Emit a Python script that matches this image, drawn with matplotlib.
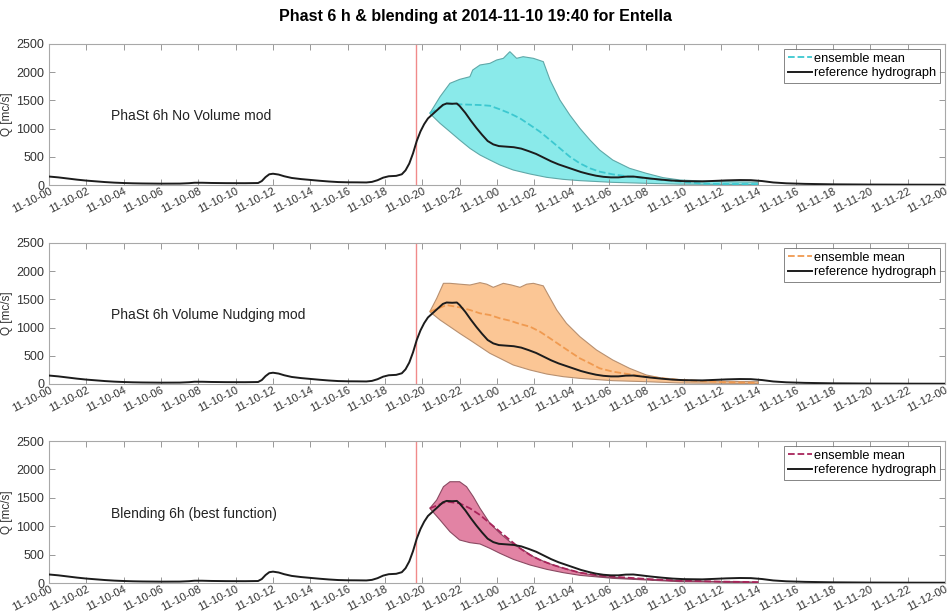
import matplotlib
matplotlib.use("Agg")
import matplotlib.pyplot as plt
import matplotlib.dates as mdates
import pandas as pd

plt.rcParams["font.family"] = ["Liberation Sans", "DejaVu Sans"]

START = pd.Timestamp("2014-11-10 00:00")
END = pd.Timestamp("2014-11-12 00:00")
ISSUE = pd.Timestamp("2014-11-10 19:40")

# reference hydrograph (hours since start, discharge)
ref_h = [0, 0.5, 1, 1.5, 2, 2.5, 3, 3.5, 4, 4.5, 5, 6, 7, 7.5, 7.8, 8.2, 8.7, 9.5,
         10.5, 11.2, 11.4, 11.6, 11.8, 12.0, 12.3, 12.6, 13.0, 13.5, 14, 14.5, 15,
         15.5, 16, 16.5, 17, 17.3, 17.6, 17.9, 18.2, 18.6, 18.9, 19.1, 19.3, 19.5,
         19.7, 19.9, 20.1, 20.3, 20.6, 20.9, 21.1, 21.3, 21.6, 21.85, 22.0, 22.3,
         22.6, 22.9, 23.2, 23.5, 23.8, 24.1, 24.5, 24.9, 25.3, 25.7, 26.1, 26.5,
         26.9, 27.3, 27.7, 28.1, 28.5, 28.9, 29.3, 29.7, 30.1, 30.5, 30.9, 31.3,
         31.7, 32.2, 32.8, 33.4, 34, 35, 35.6, 36.3, 37, 37.6, 38.2, 38.8, 39.5,
         40.5, 42, 44, 46, 48]
ref_q = [150, 135, 115, 95, 78, 65, 52, 42, 35, 30, 27, 24, 25, 32, 40, 40, 36, 33,
         32, 35, 70, 140, 190, 200, 185, 155, 125, 105, 90, 75, 62,
         52, 48, 47, 45, 55, 85, 130, 155, 162, 190, 260, 380, 560,
         780, 950, 1080, 1180, 1270, 1360, 1420, 1445, 1440, 1445, 1400, 1280,
         1140, 1010, 890, 780, 720, 690, 680, 670, 645, 600, 550, 485,
         420, 365, 320, 275, 230, 195, 165, 145, 135, 135, 148, 150,
         135, 115, 95, 78, 68, 64, 72, 82, 88, 86, 70, 45, 30,
         20, 12, 8, 6, 5]

# PhaSt 6h No Volume mod
nv_up_h = [20.4, 20.95, 21.48, 22.0, 22.55, 22.7, 23.09, 23.62, 23.98, 24.34, 24.69,
           25.05, 25.4, 25.95, 26.48, 26.84, 27.37, 27.9, 28.44, 28.98, 29.5, 30.2,
           31.1, 32.0, 32.9, 33.8, 35, 36, 37, 38]
nv_up_q = [1270, 1566, 1803, 1873, 1920, 2039, 2128, 2157, 2216, 2246, 2364,
           2246, 2275, 2246, 2187, 1862, 1507, 1241, 1005, 798, 620, 443,
           296, 207, 130, 89, 70, 60, 55, 50]
nv_lo_h = [20.4, 20.95, 21.48, 22.0, 22.55, 23.09, 23.62, 24.16, 24.87, 25.77, 26.66,
           27.55, 28.44, 30.2, 32.0, 33.8, 38]
nv_lo_q = [1270, 1093, 945, 798, 650, 532, 443, 355, 266, 195, 136,
           100, 77, 47, 30, 15, 8]
nv_mean_h = [20.4, 21.3, 22.0, 23.09, 23.62, 24.16, 24.69, 25.23, 25.77, 26.3, 26.84,
             27.37, 27.9, 28.44, 28.98, 29.5, 30.2, 31.1, 32.0, 33.8, 35, 36, 38]
nv_mean_q = [1270, 1448, 1430, 1418, 1405, 1341, 1270, 1182, 1064, 945, 798,
             650, 502, 384, 296, 236, 189, 148, 118, 60, 25, 18, 15]

# PhaSt 6h Volume Nudging mod
vn_up_h = [20.4, 20.77, 21.13, 21.48, 22.0, 22.55, 23.09, 23.45, 23.8, 24.34, 24.78,
           25.23, 25.59, 25.95, 26.48, 26.75, 27.2, 27.72, 28.44, 29.33, 30.2, 31.1,
           32.0, 32.9, 33.8, 36, 38]
vn_up_q = [1282, 1518, 1785, 1785, 1770, 1755, 1797, 1770, 1714, 1785, 1755,
           1714, 1770, 1785, 1740, 1578, 1312, 1076, 839, 603, 426, 278,
           160, 100, 71, 50, 40]
vn_lo_h = [20.4, 20.95, 21.48, 22.0, 22.55, 23.09, 23.62, 24.16, 24.87, 25.77, 26.66,
           27.55, 28.44, 30.2, 32.0, 33.8, 38]
vn_lo_q = [1282, 1135, 1016, 898, 780, 661, 544, 455, 337, 248, 177,
           130, 100, 59, 41, 18, 8]
vn_mean_h = [20.4, 21.3, 22.0, 22.55, 23.09, 23.62, 24.16, 24.69, 25.23, 25.77, 26.3,
             26.84, 27.37, 27.9, 28.44, 28.98, 29.5, 30.2, 31.1, 32.0, 33.8, 36, 38]
vn_mean_q = [1282, 1400, 1359, 1312, 1253, 1223, 1164, 1123, 1064, 1016, 928,
             810, 691, 573, 455, 367, 278, 219, 172, 130, 71, 35, 20]

# Blending 6h (best function)
bl_up_h = [20.4, 20.77, 21.13, 21.48, 22.0, 22.37, 22.73, 23.09, 23.62, 24.16, 24.69,
           25.05, 25.4, 25.95, 26.66, 27.55, 28.44, 29.33, 30.2, 32.0, 33.8, 36, 38]
bl_up_q = [1315, 1461, 1695, 1783, 1783, 1695, 1519, 1315, 1051, 875, 727,
           651, 581, 463, 358, 259, 182, 129, 100, 65, 41, 25, 15]
bl_lo_h = [20.4, 20.95, 21.48, 22.0, 22.55, 23.09, 23.62, 24.16, 24.87, 25.77, 26.66,
           27.55, 28.44, 30.2, 32.0, 33.8, 38]
bl_lo_q = [1315, 1109, 903, 757, 710, 687, 610, 522, 417, 317, 241,
           182, 135, 82, 53, 23, 8]
bl_mean_h = [20.4, 21.3, 22.0, 22.55, 23.09, 23.62, 24.16, 24.69, 25.23, 25.77, 26.3,
             27.0, 27.72, 28.44, 29.33, 30.2, 32.0, 33.8, 36, 38]
bl_mean_q = [1315, 1432, 1402, 1315, 1197, 1051, 903, 757, 610, 493, 405,
             317, 246, 182, 141, 112, 71, 41, 25, 15]

panels = [
    ("PhaSt 6h No Volume mod", nv_up_h, nv_up_q, nv_lo_h, nv_lo_q, nv_mean_h, nv_mean_q,
     "#8aeaea", "#5fa8a8", "#3cc8d0"),
    ("PhaSt 6h Volume Nudging mod", vn_up_h, vn_up_q, vn_lo_h, vn_lo_q, vn_mean_h, vn_mean_q,
     "#fbc695", "#b89070", "#f09a50"),
    ("Blending 6h (best function)", bl_up_h, bl_up_q, bl_lo_h, bl_lo_q, bl_mean_h, bl_mean_q,
     "#e283a4", "#8a4a62", "#a8245a"),
]


def to_time(hours):
    return START + pd.to_timedelta(hours, unit="h")


fig = plt.figure(figsize=(9.51, 6.16), dpi=100)
fig.suptitle("Phast 6 h & blending at 2014-11-10 19:40 for Entella",
             fontsize=11.5, fontweight="bold", y=0.985)

tops = [44, 243, 441]
bottoms = [185, 384, 583]
left, right = 49, 945
H, W = 616.0, 951.0

for (label, up_h, up_q, lo_h, lo_q, m_h, m_q, fill_c, edge_c, mean_c), top, bot in zip(panels, tops, bottoms):
    ax = fig.add_axes([left / W, 1 - bot / H, (right - left) / W, (bot - top) / H])

    # ensemble envelope: upper bound out, lower bound back
    poly_t = list(to_time(up_h)) + list(to_time(lo_h[::-1]))
    poly_q = list(up_q) + list(lo_q[::-1])
    ax.fill(poly_t, poly_q, facecolor=fill_c, edgecolor=edge_c, linewidth=0.8, zorder=1)

    ax.plot(to_time(m_h), m_q, "--", color=mean_c, linewidth=1.3, label="ensemble mean", zorder=3)
    ax.plot(to_time(ref_h), ref_q, "-", color="#1c1c1c", linewidth=1.4,
            label="reference hydrograph", zorder=4)
    ax.axvline(ISSUE, color="#f08a8a", linewidth=1.0, zorder=2)

    ax.set_xlim(START, END)
    ax.set_ylim(0, 2500)
    ax.set_yticks([0, 500, 1000, 1500, 2000, 2500])
    ax.xaxis.set_major_locator(mdates.HourLocator(interval=2))
    ax.xaxis.set_major_formatter(mdates.DateFormatter("%m-%d-%H"))
    ax.tick_params(direction="in", top=True, right=True, length=4, width=0.6,
                   color="#888888", labelcolor="#333333", labelsize=9)
    ax.tick_params(axis="x", labelsize=8, pad=1)
    for lab in ax.get_xticklabels():
        lab.set_rotation(27)
        lab.set_ha("right")
        lab.set_rotation_mode("anchor")
    for sp in ax.spines.values():
        sp.set_color("#a8a8a8")
        sp.set_linewidth(0.8)

    ax.set_ylabel("Q [mc/s]", fontsize=8.5, color="#333333")
    ax.yaxis.set_label_coords(-0.04, 0.5)
    ax.text(to_time(3.3), 1220, label, fontsize=10, color="#222222", va="center")

    leg = ax.legend(loc="upper right", fontsize=9.2, frameon=True, fancybox=False,
                    handlelength=1.9, handletextpad=0.15, borderpad=0.3,
                    labelspacing=0.2, borderaxespad=0.4)
    leg.get_frame().set_edgecolor("#666666")
    leg.get_frame().set_linewidth(0.7)

fig.savefig("out.png", dpi=100)
